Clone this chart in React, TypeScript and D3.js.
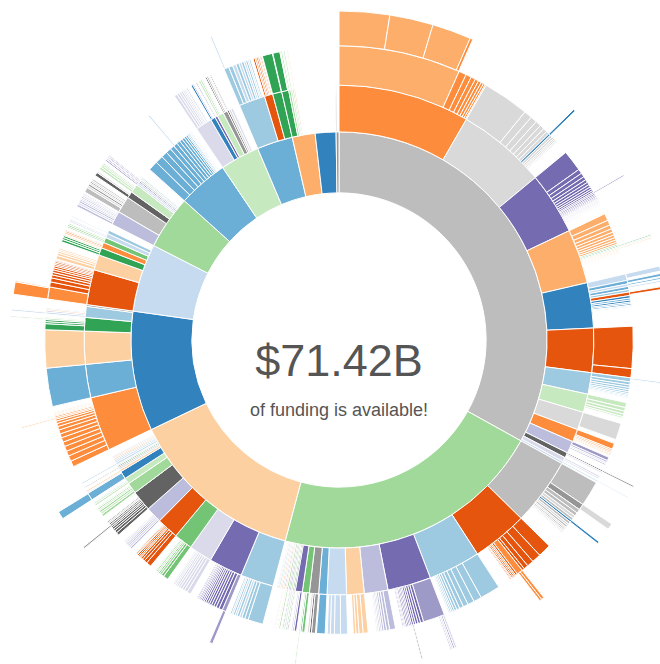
import React from "react";
import * as d3 from "d3";

type N = [number, number, N[]?];

const PALETTE = [
  "#3182bd", "#6baed6", "#9ecae1", "#c6dbef",
  "#e6550d", "#fd8d3c", "#fdae6b", "#fdd0a2",
  "#31a354", "#74c476", "#a1d99b", "#c7e9c0",
  "#756bb1", "#9e9ac8", "#bcbddc", "#dadaeb",
  "#636363", "#969696", "#bdbdbd", "#d9d9d9",
];

const TOTAL_LABEL = "$71.42B";
const SUB_LABEL = "of funding is available!";

const branchA: N = [18, 119, [
  [5, 30, [
    [6, 24.1, [[6, 8.9], [6, 7.7], [6, 6.9], [5, 0.5]]],
    [5, 1.5], [5, 1.1], [5, 0.9], [5, 0.7], [5, 0.6], [5, 0.5], [5, 0.4], [5, 0.2],
  ]],
  [19, 20.4, [
    [19, 9.2],
    [19, 1.6], [19, 1.3], [19, 1.1], [19, 0.9], [19, 0.8], [19, 0.6],
    [0, 0.4, [[0, 0.4]]],
    [19, 0.5], [19, 0.4], [19, 0.3], [19, 0.3], [19, 0.2], [19, 0.2],
  ]],
  [12, 14.2, [
    [12, 4.2],
    [12, 0.9], [12, 0.8], [12, 0.7], [12, 0.6], [12, 0.55], [12, 0.5], [12, 0.45], [12, 0.4], [12, 0.35],
    [13, 0.3, [[13, 0.25]]],
    [12, 0.3], [12, 0.25], [12, 0.25], [12, 0.2], [12, 0.2], [13, 0.15], [13, 0.15], [13, 0.15],
    [13, 0.15], [13, 0.15], [13, 0.15], [14, 0.1], [14, 0.1], [14, 0.1], [14, 0.1],
  ]],
  [6, 12.4, [
    [6, 1.4], [6, 1.0], [6, 0.8], [6, 0.7], [6, 0.6], [6, 0.55], [6, 0.5], [6, 0.45], [6, 0.4],
    [10, 0.3], [8, 0.25, [[8, 0.2]]], [11, 0.25, [[10, 0.15]]],
    [7, 0.25, [[7, 0.2]]], [7, 0.2], [7, 0.2], [7, 0.2], [7, 0.15], [7, 0.15], [7, 0.1], [7, 0.1],
  ]],
  [0, 10.3, [
    [3, 1.3, [[3, 0.9]]], [1, 0.7, [[1, 0.5]]], [3, 0.5, [[1, 0.3]]], [1, 0.6, [[3, 0.3]]], [2, 0.5],
    [4, 0.7, [[4, 0.5]]], [0, 0.5], [1, 0.4], [0, 0.4], [1, 0.3], [0, 0.3], [2, 0.2], [3, 0.2],
  ]],
  [4, 10.1, [[4, 8.3], [4, 1.8]]],
  [2, 4.9, [[2, 0.8, [[3, 0.3]]], [2, 0.6], [2, 0.5], [2, 0.45], [2, 0.4], [2, 0.35], [2, 0.3], [2, 0.25], [2, 0.2], [2, 0.15]]],
  [11, 4.2, [[11, 1.0], [11, 0.7], [11, 0.6], [11, 0.5], [11, 0.3]]],
  [19, 4.1, [[19, 3.3]]],
  [5, 2.9, [[5, 1.2], [6, 0.3], [6, 0.3], [6, 0.25], [6, 0.2], [6, 0.2]]],
  [14, 2.8, [[13, 0.7], [14, 0.4], [15, 0.3], [14, 0.3]]],
  [16, 1.2, [[16, 0.3, [[17, 0.3]]], [15, 0.3]]],
  [15, 1.0, [[15, 0.4], [15, 0.3]]],
  [3, 0.5, [[3, 0.3, [[3, 0.2]]]]],
]];

const branchB: N = [10, 76, [
  [18, 15.4, [
    [18, 5.0],
    [17, 1.2, [[19, 1.1]]], [18, 0.8], [18, 0.7], [19, 0.6], [18, 0.5], [0, 0.4, [[0, 0.4]]],
    [18, 0.5], [19, 0.4], [18, 0.4], [19, 0.3], [18, 0.3], [19, 0.3], [19, 0.2], [19, 0.2],
  ]],
  [4, 12.7, [
    [4, 2.6], [4, 1.8], [4, 1.3], [4, 0.9], [4, 0.5], [5, 1.2, [[5, 0.5], [5, 0.4]]],
    [4, 0.4], [5, 0.3], [4, 0.3], [4, 0.3], [5, 0.2], [4, 0.2],
  ]],
  [2, 11.9, [[2, 4.0], [2, 1.6], [2, 1.3], [2, 1.0], [2, 0.8], [2, 0.6], [2, 0.5], [2, 0.4], [2, 0.3], [2, 0.3], [2, 0.2]]],
  [12, 9.9, [
    [13, 4.3, [[15, 0.4], [13, 0.3], [15, 0.3], [13, 0.2]]],
    [12, 0.6], [12, 0.5], [12, 0.5], [12, 0.4], [12, 0.4, [[16, 0.2]]], [12, 0.3], [12, 0.3],
    [12, 0.3], [12, 0.3], [12, 0.2], [12, 0.2], [12, 0.2],
  ]],
  [14, 5.4, [[14, 1.2], [14, 0.6], [14, 0.5], [14, 0.4], [14, 0.3], [14, 0.3], [15, 0.3], [15, 0.2]]],
  [7, 4.0, [[7, 1.0], [7, 0.8], [7, 0.6], [7, 0.5]]],
  [3, 4.4, [[3, 1.4], [3, 1.2], [3, 0.8], [3, 0.6]]],
  [1, 1.9, [[1, 1.7]]],
  [17, 2.1, [[17, 0.8], [16, 0.4], [19, 0.4]]],
  [9, 1.6, [[9, 0.6], [8, 0.3], [11, 0.25, [[10, 0.2]]]]],
  [12, 1.6, [[12, 0.5], [13, 0.3], [15, 0.3]]],
  [16, 0.3, [[16, 0.2]]], [8, 0.3, [[8, 0.2]]], [11, 0.4, [[11, 0.3]]], [12, 0.3, [[12, 0.2]]], [17, 0.3],
  [10, 0.4, [[10, 0.3]]], [7, 0.3, [[7, 0.2]]], [13, 0.3], [19, 0.3, [[19, 0.2]]], [6, 0.3],
  [15, 0.3], [2, 0.3], [9, 0.2], [14, 0.2],
]];

const branchC: N = [7, 49.5, [
  [2, 7.6, [[2, 3.0], [2, 0.7], [2, 0.6], [3, 0.5], [2, 0.5], [3, 0.4], [2, 0.4], [3, 0.3], [2, 0.3]]],
  [12, 7.7, [
    [13, 0.8, [[13, 0.6]]], [12, 0.7], [12, 0.6], [12, 0.5], [12, 0.5], [12, 0.45], [12, 0.4], [12, 0.4],
    [12, 0.35], [12, 0.3], [12, 0.3], [12, 0.25], [12, 0.25], [12, 0.2], [12, 0.2],
  ]],
  [15, 5.3, [[15, 0.8], [15, 0.6], [15, 0.5], [15, 0.5], [15, 0.4], [15, 0.4], [15, 0.3], [15, 0.3], [15, 0.2]]],
  [9, 4.2, [[9, 1.0], [9, 0.5], [10, 0.4], [9, 0.3], [11, 0.3], [10, 0.3], [11, 0.2]]],
  [4, 5.0, [[4, 1.0], [4, 0.6], [4, 0.5], [4, 0.4], [5, 0.3], [4, 0.3], [4, 0.3], [5, 0.2], [4, 0.2]]],
  [14, 3.7, [[14, 0.4], [15, 0.4], [14, 0.3], [14, 0.3], [15, 0.3], [14, 0.2], [15, 0.2]]],
  [16, 4.7, [[16, 0.6], [16, 0.5], [16, 0.4], [16, 0.4], [16, 0.3], [17, 0.4, [[17, 0.3]]], [16, 0.3], [19, 0.3], [16, 0.2]]],
  [10, 2.5, [[10, 0.5], [11, 0.4], [10, 0.4], [11, 0.3], [10, 0.3], [11, 0.2]]],
  [11, 1.4, [[11, 0.4], [11, 0.3], [3, 0.2]]],
  [0, 1.8, [[1, 1.5, [[1, 1.4]]], [3, 0.2]]],
  [7, 0.5, [[7, 0.3]]], [19, 0.4], [17, 0.3, [[17, 0.2]]], [8, 0.3], [19, 0.3], [3, 0.5, [[3, 0.3]]],
  [3, 0.4], [2, 0.3], [6, 0.3], [7, 0.3], [15, 0.3],
]];

const branchD: N = [0, 33.5, [
  [5, 12.4, [
    [5, 1.2], [5, 1.1], [5, 1.0], [5, 1.0], [5, 0.9], [5, 0.9], [5, 0.8], [5, 0.8], [5, 0.7], [5, 0.6],
    [5, 0.5], [5, 0.4], [6, 0.3, [[7, 0.25]]], [5, 0.3], [6, 0.2], [7, 0.2], [7, 0.2], [7, 0.2],
  ]],
  [1, 7.6, [[1, 7.6]]],
  [7, 7.5, [[7, 7.5]]],
  [8, 3.1, [[8, 1.2], [8, 0.4], [8, 0.4], [10, 0.3, [[10, 0.2]]], [11, 0.2]]],
  [2, 2.5, [[3, 0.4, [[3, 0.3]]], [14, 0.3], [7, 0.3], [3, 0.2]]],
  [17, 0.4],
]];

const branchE: N = [3, 19, [
  [4, 8.0, [
    [5, 2.4, [[5, 2.2], [6, 0.2]]], [4, 1.0], [4, 0.8], [4, 0.6], [4, 0.5], [4, 0.5], [4, 0.4], [4, 0.4],
    [4, 0.3], [4, 0.3], [4, 0.3], [4, 0.2],
  ]],
  [7, 3.5, [[7, 0.7], [7, 0.5], [7, 0.4], [7, 0.3], [7, 0.3]]],
  [8, 1.7, [[8, 0.5], [8, 0.4], [8, 0.4], [6, 0.2]]],
  [5, 1.3, [[6, 0.3], [5, 0.3], [6, 0.2]]],
  [9, 1.2, [[10, 0.3], [9, 0.3], [11, 0.3]]],
  [3, 1.0, [[3, 0.3], [14, 0.2]]],
  [2, 0.8, [[3, 0.2]]],
]];

const branchF: N = [10, 15, [
  [14, 3.2, [[14, 0.5], [15, 0.4], [14, 0.4], [14, 0.3], [15, 0.3], [14, 0.3], [15, 0.3], [14, 0.2], [14, 0.2]]],
  [18, 3.8, [[18, 1.0], [19, 0.4], [17, 0.4], [19, 0.3], [17, 0.3], [19, 0.3], [18, 0.3]]],
  [16, 1.5, [[16, 0.7], [19, 0.3]]],
  [11, 2.0, [[11, 0.5], [11, 0.4], [11, 0.3], [10, 0.2]]],
  [15, 0.4, [[13, 0.3]]], [3, 0.4, [[12, 0.2]]], [12, 0.3, [[12, 0.2]]], [19, 0.4, [[13, 0.2]]], [11, 0.3], [3, 0.3],
]];

const branchG: N = [1, 14, [
  [1, 2.2], [1, 1.8], [1, 1.4], [1, 1.2], [1, 1.0], [1, 0.9, [[3, 0.3]]], [1, 0.8], [1, 0.7],
  [1, 0.6], [1, 0.5], [1, 0.4], [2, 0.3], [2, 0.3], [3, 0.2], [3, 0.2], [3, 0.2],
]];

const branchH: N = [11, 11, [
  [15, 3.8, [[15, 0.6], [15, 0.5], [15, 0.4], [15, 0.4], [15, 0.3], [15, 0.3], [3, 0.2], [15, 0.3]]],
  [0, 1.1, [[0, 0.4], [12, 0.2]]],
  [12, 0.6, [[12, 0.2]]],
  [11, 1.5, [[11, 0.4], [10, 0.3], [19, 0.2]]],
  [17, 1.0, [[16, 0.3], [17, 0.3], [19, 0.2]]],
  [16, 0.4, [[16, 0.2]]],
  [19, 0.5], [15, 0.5],
]];

const branchI: N = [1, 10, [
  [2, 6.0, [[2, 1.0, [[3, 0.3]]], [2, 0.8], [3, 0.7], [2, 0.6], [3, 0.5], [2, 0.5], [3, 0.4], [2, 0.4], [3, 0.3], [2, 0.3]]],
  [4, 1.9, [[4, 0.4], [5, 0.3], [4, 0.3], [5, 0.3], [6, 0.2], [4, 0.2]]],
  [8, 2.1, [[8, 2.0]]],
]];

const branchJ: N = [6, 6.4, [
  [8, 1.6, [[8, 1.4], [10, 0.2]]],
  [10, 0.5, [[10, 0.3], [11, 0.2]]],
  [11, 0.4, [[11, 0.3]]],
  [10, 0.3],
  [7, 0.3, [[7, 0.2]]],
]];

const branchK: N = [0, 5.8];
const branchL: N = [17, 0.8, [[17, 0.25]]];

const BRANCHES: N[] = [branchA, branchB, branchC, branchD, branchE, branchF, branchG, branchH, branchI, branchJ, branchK, branchL];

type Node = { c: number; own: number; children?: Node[] };

function toNode(n: N): Node {
  const kids = n[2] ? n[2].map(toNode) : undefined;
  const kidSum = n[2] ? d3.sum(n[2], (k) => k[1]) : 0;
  return { c: n[0], own: Math.max(0, n[1] - kidSum), children: kids };
}

const W = 660;
const H = 664;
const CX = 339;
const CY = 340;
const R = 329;

export default function App() {
  const nodes = React.useMemo(() => {
    const rootData: Node = { c: -1, own: 0, children: BRANCHES.map(toNode) };
    const root = d3.hierarchy<Node>(rootData, (d) => d.children).sum((d) => d.own);
    d3.partition<Node>().size([2 * Math.PI, R * R])(root);
    return (root.descendants() as any[]).filter((d) => d.depth > 0);
  }, []);

  const arc = d3
    .arc<any>()
    .startAngle((d) => d.x0)
    .endAngle((d) => d.x1)
    .innerRadius((d) => Math.sqrt(d.y0))
    .outerRadius((d) => Math.sqrt(d.y1));

  return (
    <svg
      width={W}
      height={H}
      style={{ position: "absolute", left: 0, top: 0, background: "#fff" }}
    >
      <g transform={`translate(${CX},${CY})`}>
        {nodes.map((d, i) => (
          <path
            key={i}
            d={arc(d) || ""}
            fill={PALETTE[d.data.c]}
            stroke="#fff"
            strokeWidth={1}
          />
        ))}
        <text
          x={0}
          y={36}
          textAnchor="middle"
          fontFamily="'Liberation Sans', Arial, Helvetica, sans-serif"
          fontSize={45}
          fill="#555"
        >
          {TOTAL_LABEL}
        </text>
        <text
          x={0}
          y={76}
          textAnchor="middle"
          fontFamily="'Liberation Sans', Arial, Helvetica, sans-serif"
          fontSize={18}
          fill="#555"
        >
          {SUB_LABEL}
        </text>
      </g>
    </svg>
  );
}
